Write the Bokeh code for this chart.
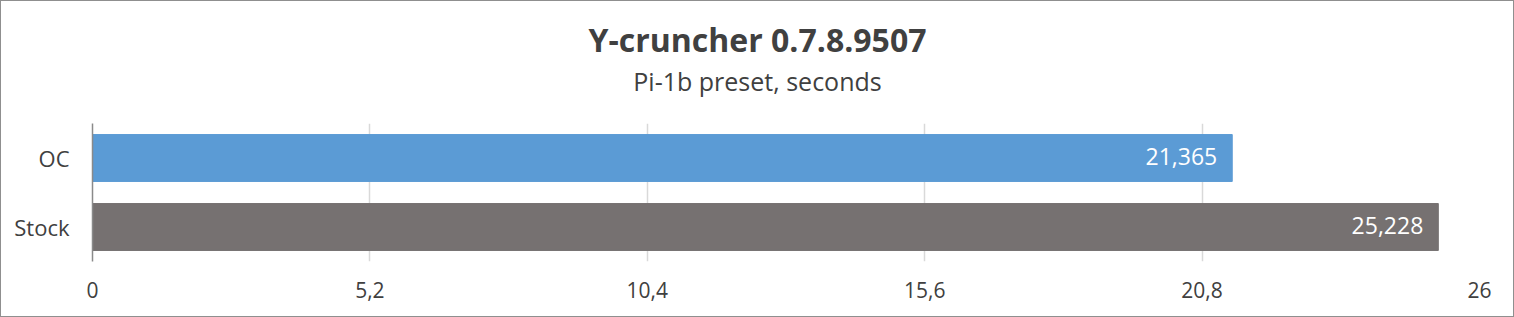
from bokeh.plotting import figure
from bokeh.models import ColumnDataSource, LabelSet, Label, FixedTicker, FactorRange, Range1d
from bokeh.layouts import column
from bokeh.core.properties import value
from bokeh.embed import file_html
from bokeh.resources import INLINE

# ---- data ----
categories = ["Stock", "OC"]          # bottom to top
values = [25.228, 21.365]
value_labels = ["25,228", "21,365"]
bar_colors = ["#767171", "#5B9BD5"]
tick_values = [0, 5.2, 10.4, 15.6, 20.8, 26]
tick_labels = ["0", "5,2", "10,4", "15,6", "20,8", "26"]
title_text = "Y-cruncher 0.7.8.9507"
subtitle_text = "Pi-1b preset, seconds"

# ---- layout ----
W = 1512
TOP_H = 100
H = 315 - TOP_H
ML, MR, MT, MB = 91, 34, 22, 55
FONT = "Open Sans"
TXT = "#404040"

# title strip (frame aligned with the chart below)
t = figure(width=W, height=TOP_H, x_range=Range1d(0, 1), y_range=Range1d(0, 1),
           output_backend="svg", toolbar_location=None,
           min_border_left=ML, min_border_right=MR, min_border_top=0, min_border_bottom=0)
t.axis.visible = False
t.grid.grid_line_color = None
t.outline_line_color = None
cx = W / 2 - ML
t.add_layout(Label(x=cx, y=TOP_H - 38, x_units="screen", y_units="screen", text=title_text,
                   text_align="center", text_baseline="alphabetic", text_font=FONT,
                   text_font_style="bold", text_font_size="32px", text_color=TXT))
t.add_layout(Label(x=cx, y=TOP_H - 79, x_units="screen", y_units="screen", text=subtitle_text,
                   text_align="center", text_baseline="alphabetic", text_font=FONT,
                   text_font_size="25px", text_color=TXT))

src = ColumnDataSource(dict(cat=categories, val=values, lab=value_labels, col=bar_colors))

p = figure(width=W, height=H, y_range=FactorRange(factors=categories, range_padding=0),
           x_range=Range1d(0, 26), output_backend="svg", toolbar_location=None,
           min_border_left=ML, min_border_right=MR, min_border_top=MT, min_border_bottom=MB)
p.outline_line_color = None

p.hbar(y="cat", right="val", left=0, height=0.68, color="col", source=src)

p.add_layout(LabelSet(x="val", y="cat", text="lab", source=src, x_offset=-15, y_offset=2,
                      text_align="right", text_baseline="middle", text_color="white",
                      text_font=value(FONT), text_font_size="23px"))

p.xaxis.ticker = FixedTicker(ticks=tick_values)
p.xaxis.major_label_overrides = {v: l for v, l in zip(tick_values, tick_labels)}
p.xaxis.axis_line_color = None
p.xaxis.major_tick_line_color = None
p.xaxis.minor_tick_line_color = None
p.xaxis.major_label_text_font = FONT
p.xaxis.major_label_text_font_size = "21px"
p.xaxis.major_label_text_color = TXT
p.xaxis.major_label_standoff = 14

p.yaxis.axis_line_color = "#8a8a8a"
p.yaxis.axis_line_width = 1.5
p.yaxis.major_tick_line_color = None
p.yaxis.minor_tick_line_color = None
p.yaxis.major_label_text_font = FONT
p.yaxis.major_label_text_font_size = "22px"
p.yaxis.major_label_text_color = TXT
p.yaxis.major_label_standoff = 17

p.xgrid.grid_line_color = "#d9d9d9"
p.xgrid.grid_line_width = 1.5
p.ygrid.grid_line_color = None

layout = column(t, p, spacing=0)
layout.styles = {"border": "1px solid #8f8f8f"}

open("out.html", "w").write(file_html(layout, INLINE))
